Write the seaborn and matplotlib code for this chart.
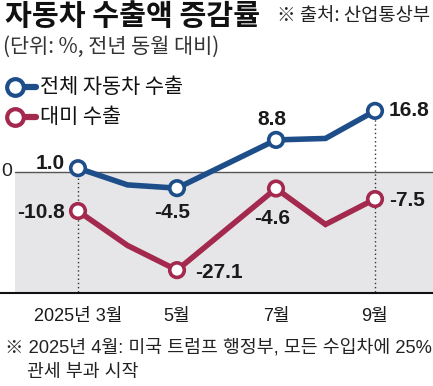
import matplotlib
matplotlib.use("Agg")
import matplotlib.pyplot as plt
import matplotlib.transforms as mtransforms
from matplotlib.lines import Line2D
from matplotlib import font_manager
import numpy as np
import pandas as pd
import seaborn as sns

# data (June has no vertex in the picture)
months = [3, 4, 5, 7, 8, 9]
total_exports = [1.0, -3.6, -4.5, 8.8, 9.2, 16.8]
us_exports = [-10.8, -20.3, -27.1, -4.6, -14.5, -7.5]
tick_months = [3, 5, 7, 9]
tick_labels = ["2025년 3월", "5월", "7월", "9월"]
series_names = ["전체 자동차 수출", "대미 수출"]

BLUE = "#1d4e8a"
RED = "#a3294f"

names = {f.name for f in font_manager.fontManager.ttflist}
NARROW = "Liberation Sans Narrow" if "Liberation Sans Narrow" in names else "Liberation Sans"
KR = "Noto Sans CJK KR"

sns.set_theme(style="white")
plt.rcParams["font.family"] = [NARROW, KR, "DejaVu Sans"]

df = pd.DataFrame({
    "month": months * 2,
    "value": total_exports + us_exports,
    "series": [series_names[0]] * len(months) + [series_names[1]] * len(months),
})
palette = {series_names[0]: BLUE, series_names[1]: RED}

fig = plt.figure(figsize=(4.33, 3.86), dpi=100)
ax = fig.add_axes([0, 1 - 293 / 386, 1, (293 - 100) / 386])

ax.set_xlim(3 - 78 / 49.5, 9 + 58 / 49.5)
ax.set_ylim(-33.4, 19.8)

# grey band under zero and zero line
x0 = 15 / 433
ax.axhspan(-40, 0, xmin=x0, xmax=1, color="#e6e6e8", zorder=0, lw=0)
ax.axhline(0, xmin=x0, xmax=1, color="#555555", lw=1, zorder=1)

# dotted guides at first and last month
ax.vlines([months[0]], -40, total_exports[0], colors="#333333", linestyles=(0, (1, 2)), lw=1, zorder=1)
ax.vlines([months[-1]], -40, total_exports[-1], colors="#333333", linestyles=(0, (1, 2)), lw=1, zorder=1)

sns.lineplot(data=df, x="month", y="value", hue="series", palette=palette,
             lw=4, legend=False, ax=ax, zorder=3, solid_joinstyle="miter")

pts = df[df["month"].isin(tick_months)]
sns.scatterplot(data=pts, x="month", y="value", hue="series", palette=palette,
                s=110, facecolor="white", legend=False, ax=ax, zorder=4)
for coll in ax.collections[-1:]:
    coll.set_facecolor("white")
    coll.set_edgecolor([BLUE if s == series_names[0] else RED for s in pts["series"]])
    coll.set_linewidth(2.6)

# value labels: (series values, month index, offset px, ha)
label_cfg = [
    (total_exports, 0, (-13, 5), "right"),
    (us_exports, 0, (-13, -1), "right"),
    (total_exports, 2, (-5, -24), "center"),
    (us_exports, 2, (18, -2), "left"),
    (total_exports, 3, (-4, 20), "center"),
    (us_exports, 3, (-4, -30), "center"),
    (total_exports, 5, (14, 0), "left"),
    (us_exports, 5, (14, -1), "left"),
]
for vals, i, off, ha in label_cfg:
    ax.annotate(f"{vals[i]:.1f}", (months[i], vals[i]), xytext=off, textcoords="offset pixels",
                ha=ha, va="center", fontsize=15, fontweight="bold", color="#1a1a1a",
                family=[NARROW, KR])

# axes styling
for side in ["top", "left", "right"]:
    ax.spines[side].set_visible(False)
ax.spines["bottom"].set_color("#111111")
ax.spines["bottom"].set_linewidth(1.5)
ax.set_yticks([])
ax.set_xticks(tick_months)
ax.set_xticklabels(tick_labels, fontsize=13, family=[NARROW, KR], color="#1a1a1a")
ax.tick_params(axis="x", direction="in", length=3, width=1, color="#333333", pad=11)
ax.set_xlabel("")
ax.set_ylabel("")
ax.patch.set_alpha(0)

trans = mtransforms.blended_transform_factory(fig.transFigure, ax.transData)
ax.text(7 / 433, 0, "0", transform=trans, ha="center", va="center", fontsize=14,
        color="#222222", family=[NARROW, KR])

# titles
fig.text(5 / 433, 1 - 16 / 386, "자동차 수출액 증감률", fontsize=21, fontweight="bold",
         family=[KR], ha="left", va="center", color="#111111")
fig.text(430 / 433, 1 - 16 / 386, "※ 출처: 산업통상부", fontsize=13.5,
         family=[KR], ha="right", va="center", color="#222222")
fig.text(3 / 433, 1 - 47 / 386, "(단위: %, 전년 동월 대비)", fontsize=15,
         family=[KR], ha="left", va="center", color="#333333")

# legend
for (name, col), yy in zip(palette.items(), [87, 117]):
    y = 1 - yy / 386
    fig.add_artist(Line2D([15 / 433, 36 / 433], [y, y], color=col, lw=4.5,
                          marker="o", markevery=[0], markersize=12, markerfacecolor="white",
                          markeredgewidth=3, markeredgecolor=col, transform=fig.transFigure))
    fig.text(40 / 433, y, name, fontsize=15, family=[KR], ha="left", va="center", color="#111111")

# footnote
fig.text(5 / 433, 1 - 348 / 386, "※ 2025년 4월: 미국 트럼프 행정부, 모든 수입차에 25%",
         fontsize=13.2, family=[NARROW, KR], ha="left", va="center", color="#222222")
fig.text(27 / 433, 1 - 373 / 386, "관세 부과 시작",
         fontsize=13.2, family=[NARROW, KR], ha="left", va="center", color="#222222")

fig.savefig("out.png", dpi=100)
